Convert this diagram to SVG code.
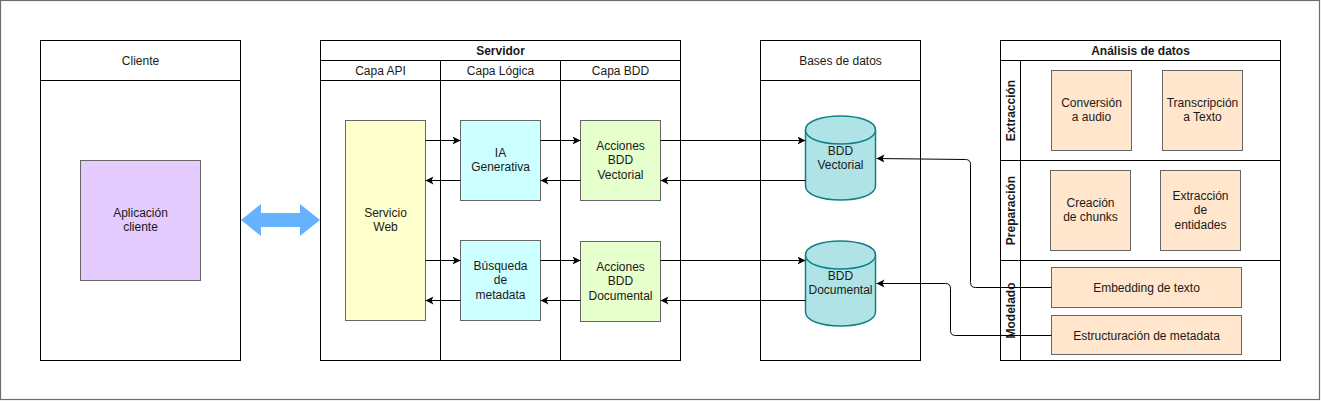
<svg xmlns="http://www.w3.org/2000/svg" width="1321" height="401" viewBox="0 0 1321 401">
<style>
text{font-family:"Liberation Sans",Arial,sans-serif;font-size:12px;fill:#1a1a1a;text-anchor:middle}
.b{font-weight:bold}
.lane{fill:#fff;stroke:#000;stroke-width:1}
.ln{stroke:#000;stroke-width:1;fill:none}
.box{stroke:#666;stroke-width:1}
.cyl{fill:#b0e3e6;stroke:#0e8088;stroke-width:1.5}
.edge{stroke:#000;stroke-width:1;fill:none;marker-end:url(#ah)}
</style>
<defs>
<marker id="ah" markerUnits="userSpaceOnUse" markerWidth="10" markerHeight="10" refX="8" refY="4" orient="auto">
<path d="M0,0 L8,4 L0,8 L2,4 Z" fill="#000"/>
</marker>
</defs>
<rect x="0.5" y="0.5" width="1319" height="399" fill="#fff" stroke="#6e6e6e" stroke-width="1.2"/>

<g id="cliente">
<rect class="lane" x="40.5" y="40.5" width="200" height="320"/>
<line class="ln" x1="40.5" y1="80.5" x2="240.5" y2="80.5"/>
<text x="140.5" y="65">Cliente</text>
</g>
<g id="aplicacion-cliente">
<rect class="box" x="80.5" y="160.5" width="120" height="120" fill="#e5ccff"/>
<text x="140.5" y="217"><tspan x="140.5">Aplicación</tspan><tspan x="140.5" dy="14.4">cliente</tspan></text>
</g>
<g id="flecha-doble">
<polygon points="241,220 261,204 261,213 300,213 300,204 320,220 300,236 300,227 261,227 261,236" fill="#66b2ff"/>
</g>

<g id="servidor">
<rect class="lane" x="320.5" y="40.5" width="360" height="320"/>
<line class="ln" x1="320.5" y1="60.5" x2="680.5" y2="60.5"/>
<line class="ln" x1="320.5" y1="80.5" x2="680.5" y2="80.5"/>
<line class="ln" x1="440.5" y1="60.5" x2="440.5" y2="360.5"/>
<line class="ln" x1="560.5" y1="60.5" x2="560.5" y2="360.5"/>
<text class="b" x="500.5" y="55">Servidor</text>
<text x="380.5" y="75">Capa API</text>
<text x="500.5" y="75">Capa Lógica</text>
<text x="620.5" y="75">Capa BDD</text>
</g>
<g id="servicio-web">
<rect class="box" x="345.5" y="120.5" width="80" height="200" fill="#ffffcc"/>
<text x="385.5" y="217"><tspan x="385.5">Servicio</tspan><tspan x="385.5" dy="14.4">Web</tspan></text>
</g>
<g id="ia-generativa">
<rect class="box" x="460.5" y="120.5" width="80" height="80" fill="#ccffff"/>
<text x="500.5" y="157"><tspan x="500.5">IA</tspan><tspan x="500.5" dy="14.4">Generativa</tspan></text>
</g>
<g id="acciones-vectorial">
<rect class="box" x="580.5" y="120.5" width="80" height="80" fill="#e6ffcc"/>
<text x="620.5" y="150"><tspan x="620.5">Acciones</tspan><tspan x="620.5" dy="14.4">BDD</tspan><tspan x="620.5" dy="14.4">Vectorial</tspan></text>
</g>
<g id="busqueda-metadata">
<rect class="box" x="460.5" y="240.5" width="80" height="80" fill="#ccffff"/>
<text x="500.5" y="270"><tspan x="500.5">Búsqueda</tspan><tspan x="500.5" dy="14.4">de</tspan><tspan x="500.5" dy="14.4">metadata</tspan></text>
</g>
<g id="acciones-documental">
<rect class="box" x="580.5" y="241.5" width="80" height="80" fill="#e6ffcc"/>
<text x="620.5" y="271"><tspan x="620.5">Acciones</tspan><tspan x="620.5" dy="14.4">BDD</tspan><tspan x="620.5" dy="14.4">Documental</tspan></text>
</g>

<g id="bases-de-datos">
<rect class="lane" x="760.5" y="40.5" width="160" height="320"/>
<line class="ln" x1="760.5" y1="80.5" x2="920.5" y2="80.5"/>
<text x="840.5" y="65">Bases de datos</text>
</g>
<g id="bdd-vectorial">
<path class="cyl" d="M805.5,130 C805.5,111.3 875.5,111.3 875.5,130 L875.5,186 C875.5,204.7 805.5,204.7 805.5,186 Z"/>
<path class="cyl" fill="none" d="M805.5,130 C805.5,148.7 875.5,148.7 875.5,130"/>
<text x="840.5" y="155"><tspan x="840.5">BDD</tspan><tspan x="840.5" dy="14.4">Vectorial</tspan></text>
</g>
<g id="bdd-documental">
<path class="cyl" d="M805.5,255 C805.5,236.3 875.5,236.3 875.5,255 L875.5,312 C875.5,330.7 805.5,330.7 805.5,312 Z"/>
<path class="cyl" fill="none" d="M805.5,255 C805.5,273.7 875.5,273.7 875.5,255"/>
<text x="840.5" y="280"><tspan x="840.5">BDD</tspan><tspan x="840.5" dy="14.4">Documental</tspan></text>
</g>

<g id="analisis-de-datos">
<rect class="lane" x="1000.5" y="40.5" width="280" height="320"/>
<line class="ln" x1="1000.5" y1="60.5" x2="1280.5" y2="60.5"/>
<line class="ln" x1="1000.5" y1="160.5" x2="1280.5" y2="160.5"/>
<line class="ln" x1="1000.5" y1="260.5" x2="1280.5" y2="260.5"/>
<line class="ln" x1="1020.5" y1="60.5" x2="1020.5" y2="360.5"/>
<text class="b" x="1140.5" y="55">Análisis de datos</text>
<text class="b" transform="translate(1014.5,110.5) rotate(-90)" x="0" y="0">Extracción</text>
<text class="b" transform="translate(1014.5,210.5) rotate(-90)" x="0" y="0">Preparación</text>
<text class="b" transform="translate(1014.5,310.5) rotate(-90)" x="0" y="0">Modelado</text>
</g>
<g id="conversion-audio">
<rect class="box" x="1051.5" y="70.5" width="80" height="80" fill="#ffe6cc"/>
<text x="1091.5" y="107"><tspan x="1091.5">Conversión</tspan><tspan x="1091.5" dy="14.4">a audio</tspan></text>
</g>
<g id="transcripcion-texto">
<rect class="box" x="1162.5" y="70.5" width="80" height="80" fill="#ffe6cc"/>
<text x="1202.5" y="107"><tspan x="1202.5">Transcripción</tspan><tspan x="1202.5" dy="14.4">a Texto</tspan></text>
</g>
<g id="creacion-chunks">
<rect class="box" x="1050.5" y="170.5" width="80" height="80" fill="#ffe6cc"/>
<text x="1090.5" y="207"><tspan x="1090.5">Creación</tspan><tspan x="1090.5" dy="14.4">de chunks</tspan></text>
</g>
<g id="extraccion-entidades">
<rect class="box" x="1160.5" y="170.5" width="80" height="80" fill="#ffe6cc"/>
<text x="1200.5" y="200"><tspan x="1200.5">Extracción</tspan><tspan x="1200.5" dy="14.4">de</tspan><tspan x="1200.5" dy="14.4">entidades</tspan></text>
</g>
<g id="embedding-texto">
<rect class="box" x="1051.5" y="267.5" width="190" height="40" fill="#ffe6cc"/>
<text x="1146.5" y="291.5">Embedding de texto</text>
</g>
<g id="estructuracion-metadata">
<rect class="box" x="1051.5" y="315.5" width="190" height="39" fill="#ffe6cc"/>
<text x="1146.5" y="339.5">Estructuración de metadata</text>
</g>

<g id="connectors">
<line class="edge" x1="425.5" y1="140.5" x2="460.5" y2="140.5"/>
<line class="edge" x1="460.5" y1="180.5" x2="425.5" y2="180.5"/>
<line class="edge" x1="540.5" y1="140.5" x2="580.5" y2="140.5"/>
<line class="edge" x1="580.5" y1="180.5" x2="540.5" y2="180.5"/>
<line class="edge" x1="660.5" y1="140.5" x2="805.5" y2="140.5"/>
<line class="edge" x1="805.5" y1="180.5" x2="660.5" y2="180.5"/>
<line class="edge" x1="425.5" y1="260.5" x2="460.5" y2="260.5"/>
<line class="edge" x1="460.5" y1="300.5" x2="425.5" y2="300.5"/>
<line class="edge" x1="540.5" y1="260.5" x2="580.5" y2="260.5"/>
<line class="edge" x1="580.5" y1="300.5" x2="540.5" y2="300.5"/>
<line class="edge" x1="660.5" y1="260.5" x2="805.5" y2="260.5"/>
<line class="edge" x1="805.5" y1="300.5" x2="660.5" y2="300.5"/>
<path class="edge" d="M1051.5,287.5 L975.5,287.5 Q970.5,287.5 970.5,282.5 L970.5,164.5 Q970.5,159.5 965.5,159.5 L876.5,158.5"/>
<path class="edge" d="M1051.5,335.5 L955.5,335.5 Q950.5,335.5 950.5,330.5 L950.5,288.5 Q950.5,283.5 945.5,283.5 L876.5,283.5"/>
</g>
</svg>
